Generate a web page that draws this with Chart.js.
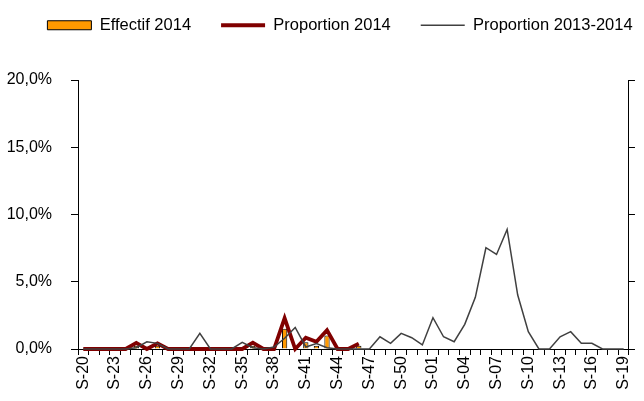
<!DOCTYPE html>
<html>
<head>
<meta charset="utf-8">
<script src="https://cdn.jsdelivr.net/npm/chart.js@4"></script>
<style>
  html, body { margin: 0; padding: 0; background: #fff; }
  #wrap { width: 644px; height: 401px; }
</style>
</head>
<body>
<div id="wrap"><canvas id="chart" width="644" height="401"></canvas></div>
<script>
const weeks = [
  'S-20','S-21','S-22','S-23','S-24','S-25','S-26','S-27','S-28','S-29','S-30',
  'S-31','S-32','S-33','S-34','S-35','S-36','S-37','S-38','S-39','S-40','S-41',
  'S-42','S-43','S-44','S-45','S-46','S-47','S-48','S-49','S-50','S-51','S-52',
  'S-01','S-02','S-03','S-04','S-05','S-06','S-07','S-08','S-09','S-10','S-11',
  'S-12','S-13','S-14','S-15','S-16','S-17','S-18','S-19'
];

// Effectif 2014 (count, right axis)
const effectif2014 = [
  0,0,0,0,0,1,0,1,0,0,0,
  0,0,0,0,0,1,0,0,6,0,2,
  1,4,0,0,1,0,0,0,0,0,0,
  0,0,0,0,0,0,0,0,0,0,0,
  0,0,0,0,0,0,0,0
];

// Proportion 2014 (%), stops after S-46
const proportion2014 = [
  0,0,0,0,0,0.45,0,0.42,0,0,0,
  0,0,0,0,0,0.47,0,0,2.3,0,0.84,
  0.54,1.4,0,0,0.4,null,null,null,null,null,null,
  null,null,null,null,null,null,null,null,null,null,null,
  null,null,null,null,null,null,null,null
];

// Proportion 2013-2014 (%)
const proportion20132014 = [
  0,0,0,0,0,0.1,0.54,0.42,0,0,0,
  1.16,0,0,0,0.5,0.1,0,0.15,0.8,1.6,0.15,
  0.4,0.1,0,0,0,0,0.91,0.42,1.16,0.84,0.3,
  2.33,0.91,0.54,1.83,3.84,7.53,7.03,8.89,4.01,1.29,0,
  0,0.91,1.29,0.42,0.42,0,0,0
];

const yTicks = [0, 5, 10, 15, 20];

const font = 'Liberation Sans, Arial, sans-serif';

// keep the legend on one row, 80px tall, nudged like the original
const legendBox = {
  id: 'legendBox',
  beforeInit(chart) {
    const fit = chart.legend.fit;
    chart.legend.fit = function () {
      this.maxWidth = 900;
      fit.call(this);
      this.height = 80;
    };
  },
  afterLayout(chart) {
    chart.legend.left += 18 - 60;
    chart.legend.right += 18 + 60;
    chart.legend.top -= 13;
  }
};

new Chart(document.getElementById('chart'), {
  type: 'line',
  data: {
    labels: weeks,
    datasets: [
      {
        type: 'bar', label: 'Effectif 2014', data: effectif2014, yAxisID: 'y1', order: 3,
        backgroundColor: '#FF9900', borderColor: '#000000', borderWidth: 1,
        barPercentage: 0.5, categoryPercentage: 1, pointStyle: 'rect'
      },
      {
        label: 'Proportion 2014', data: proportion2014, yAxisID: 'y', order: 2,
        borderColor: '#800000', backgroundColor: '#800000', borderWidth: 3.8,
        pointRadius: 0, tension: 0, pointStyle: 'line', spanGaps: false, clip: false
      },
      {
        label: 'Proportion 2013-2014', data: proportion20132014, yAxisID: 'y', order: 1,
        borderColor: '#404040', backgroundColor: '#404040', borderWidth: 1.5,
        pointRadius: 0, tension: 0, pointStyle: 'line', clip: false
      }
    ]
  },
  options: {
    responsive: false, animation: false,
    layout: { padding: 0 },
    plugins: {
      legend: {
        position: 'top',
        labels: {
          usePointStyle: true, pointStyleWidth: 44, boxHeight: 9, padding: 30,
          color: '#000', font: { family: font, size: 16.5 },
          sort: (a, b) => a.datasetIndex - b.datasetIndex
        }
      },
      tooltip: { enabled: false }
    },
    scales: {
      x: {
        offset: true,
        grid: { offset: true, drawOnChartArea: false, color: '#000', tickLength: 6 },
        border: { color: '#000', width: 1 },
        ticks: {
          autoSkip: false, minRotation: 90, maxRotation: 90, padding: 1,
          color: '#000', font: { family: font, size: 16 },
          callback: (v, i) => (i % 3 === 0 ? weeks[i] : '')
        },
        afterFit: s => { s.height = 52; }
      },
      y: {
        position: 'left', min: 0, max: 20,
        afterBuildTicks: s => { s.ticks = yTicks.map(v => ({ value: v })); },
        grid: { drawOnChartArea: false, color: '#000', tickLength: 7 },
        border: { color: '#000', width: 1 },
        ticks: {
          padding: 19, color: '#000', font: { family: font, size: 16 },
          callback: v => v.toFixed(1).replace('.', ',') + '%'
        },
        afterFit: s => { s.width = 78; }
      },
      y1: {
        position: 'right', min: 0, max: 80,
        ticks: { display: false, stepSize: 20 },
        grid: { drawOnChartArea: false, color: '#000', tickLength: 6 },
        border: { color: '#000', width: 1 },
        afterFit: s => { s.width = 13; }
      }
    }
  },
  plugins: [legendBox]
});
</script>
</body>
</html>
